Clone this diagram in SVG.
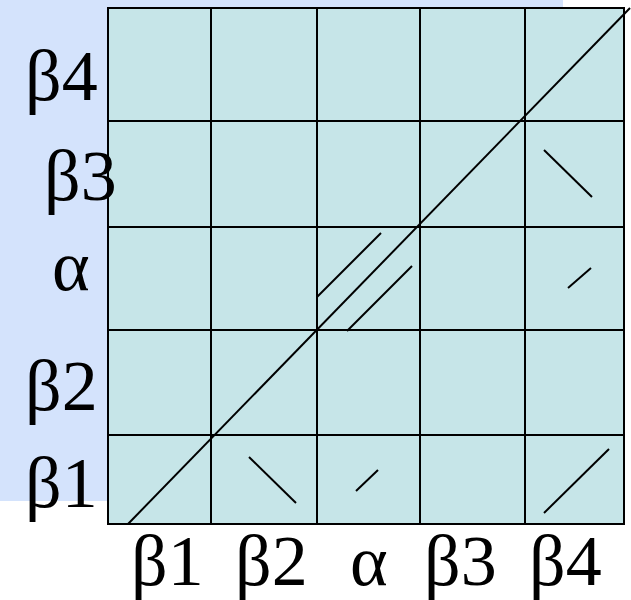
<svg xmlns="http://www.w3.org/2000/svg" width="631" height="600" viewBox="0 0 631 600">
<style>
.lbl{font-family:"Liberation Serif","Times New Roman",serif;font-size:72px;fill:#000}
.ln{stroke:#000;stroke-width:2;fill:none}
.grid{stroke:#000;stroke-width:2;fill:#c6e5e8}
</style>
<rect x="0" y="0" width="563" height="501" fill="#d4e3fc"/>
<g id="grid">
<rect class="grid" x="108" y="8" width="516" height="516"/>
<path class="ln" d="M211 8V524M317 8V524M420 8V524M525 8V524M108 121H624M108 227H624M108 330H624M108 435H624"/>
</g>
<g id="connectors">
<path class="ln" d="M128 524L630 8"/>
<path class="ln" d="M544 150L592 197"/>
<path class="ln" d="M568 288L591 268"/>
<path class="ln" d="M317 297L381 233"/>
<path class="ln" d="M347 331L412 266"/>
<path class="ln" d="M249 457L296 503"/>
<path class="ln" d="M356 491L378 470"/>
<path class="ln" d="M544 513L609 449"/>
</g>
<g id="labels-left">
<text class="lbl" x="25" y="100">β4</text>
<text class="lbl" x="44" y="200">β3</text>
<text class="lbl" x="52" y="290">α</text>
<text class="lbl" x="25" y="410">β2</text>
<text class="lbl" x="25" y="507">β1</text>
</g>
<g id="labels-bottom">
<text class="lbl" x="131" y="585">β1</text>
<text class="lbl" x="235" y="585">β2</text>
<text class="lbl" x="350" y="585">α</text>
<text class="lbl" x="424" y="585">β3</text>
<text class="lbl" x="529" y="585">β4</text>
</g>
</svg>
